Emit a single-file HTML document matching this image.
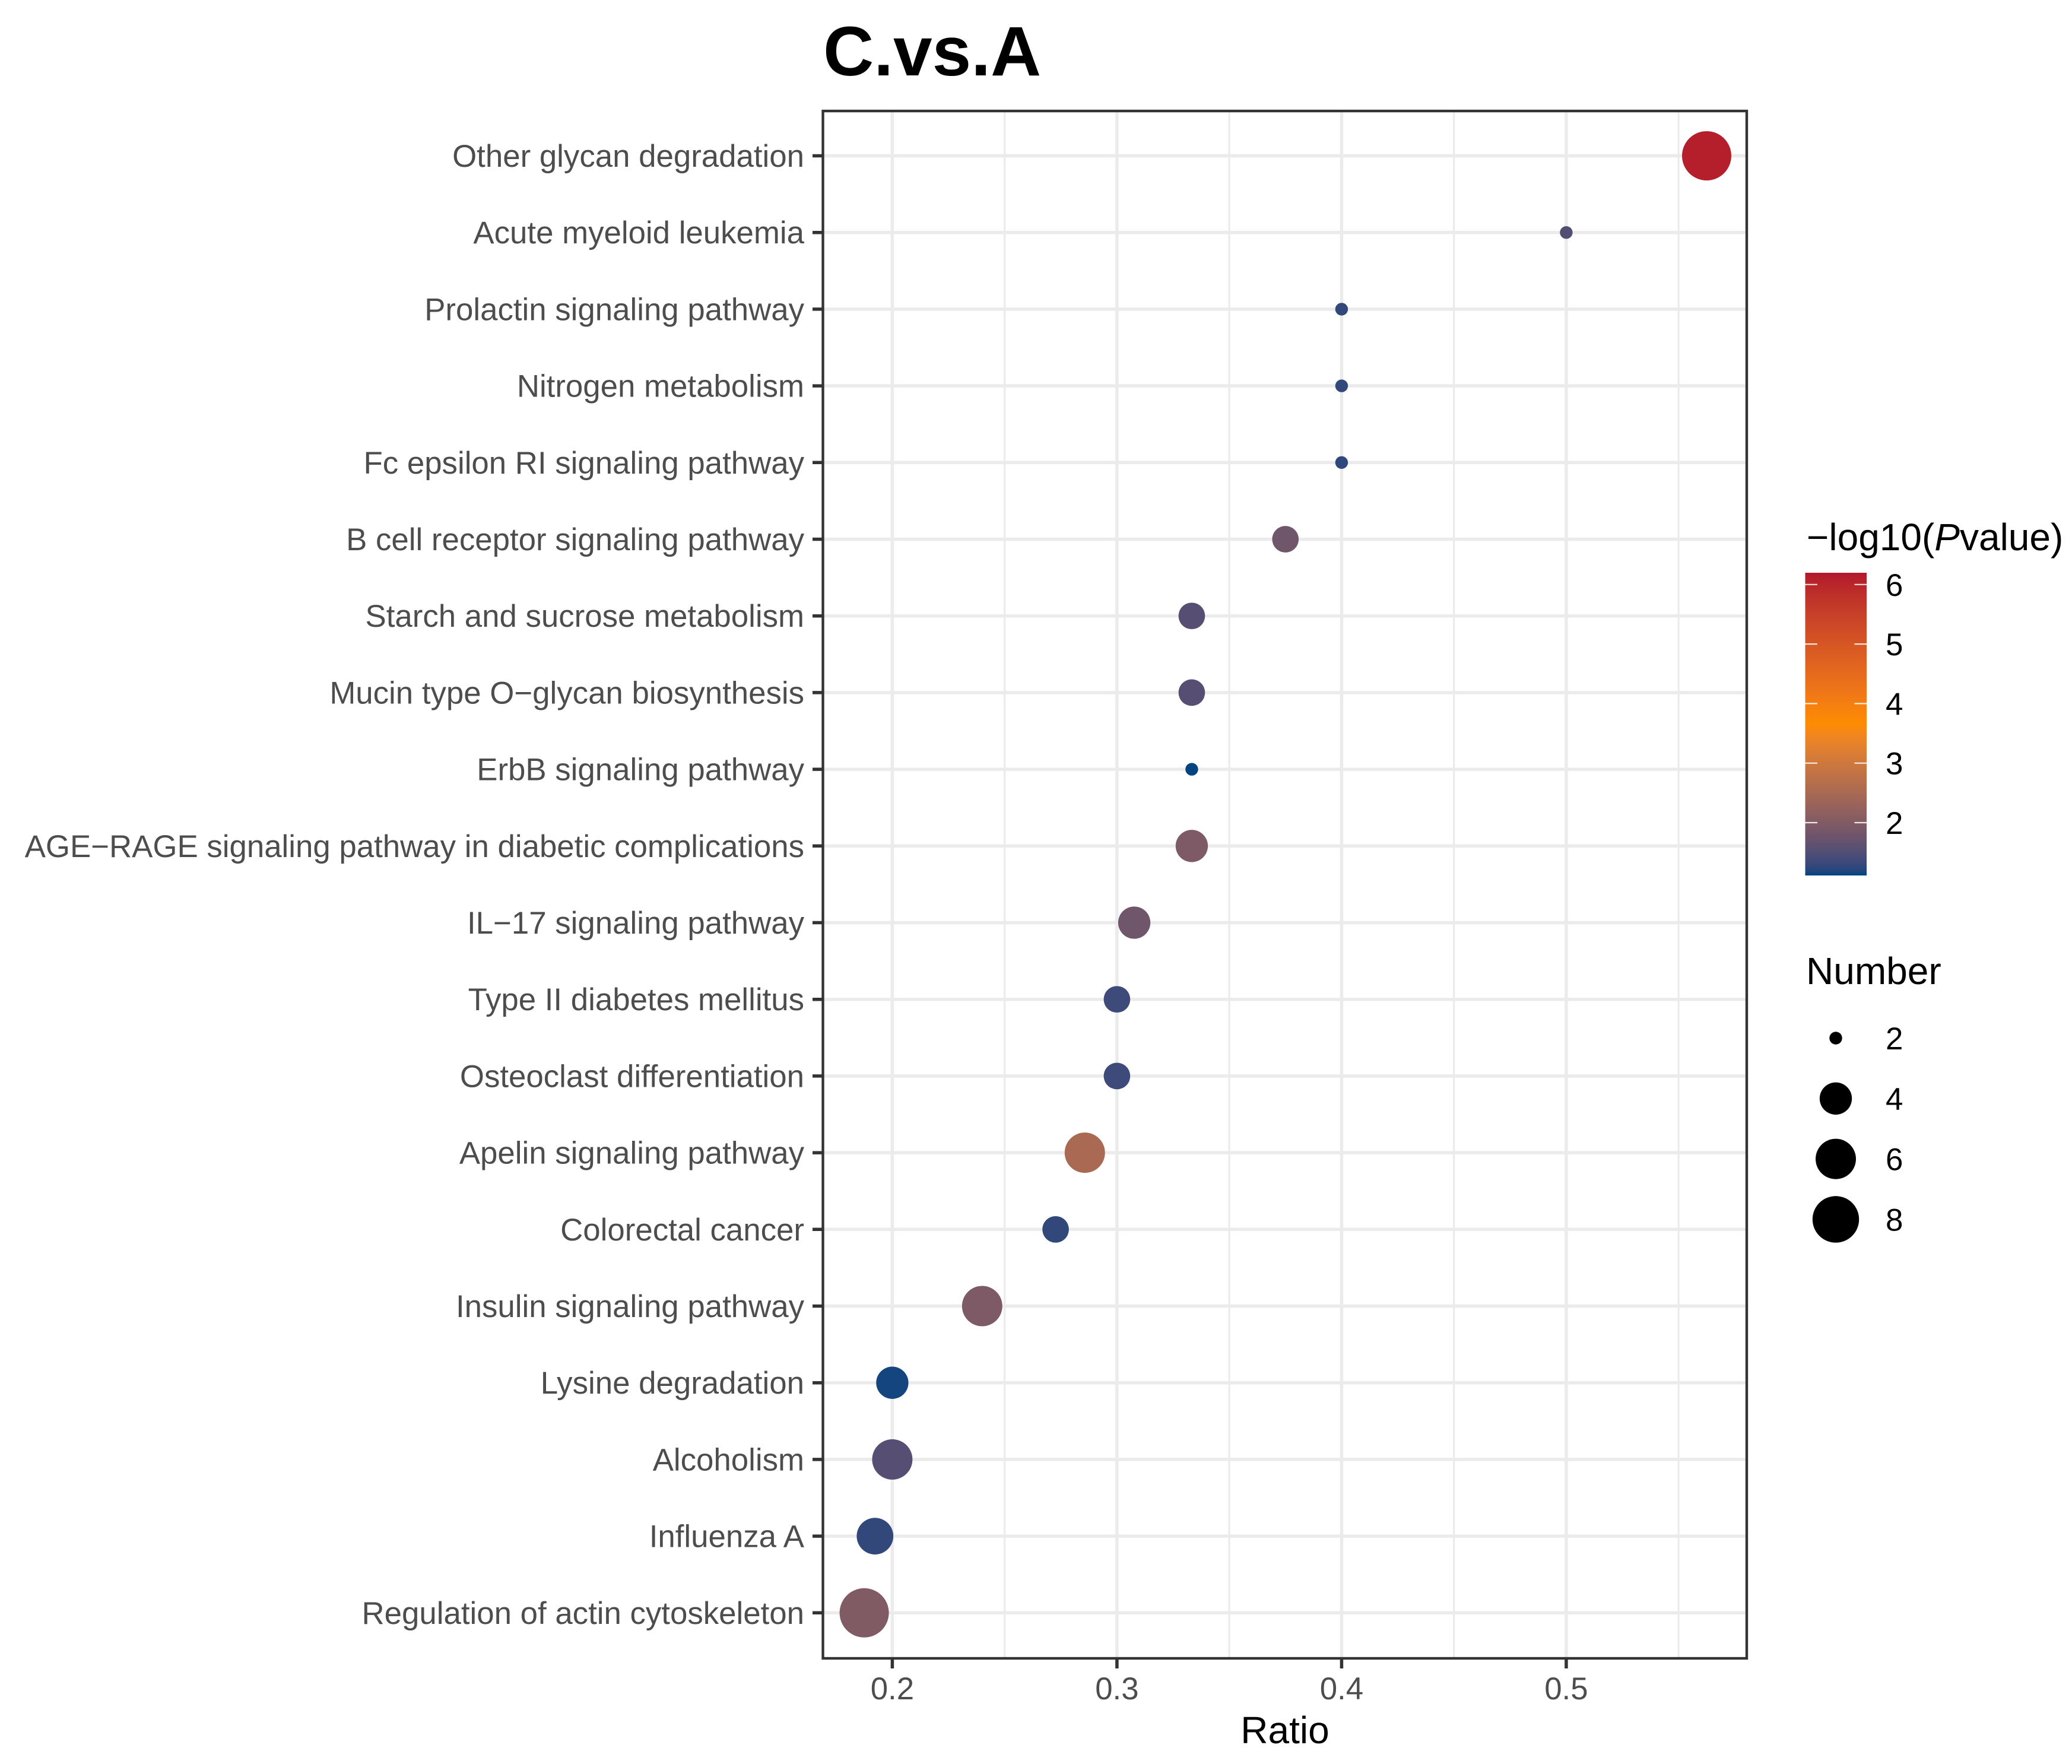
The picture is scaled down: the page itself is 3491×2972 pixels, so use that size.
<!DOCTYPE html>
<html lang="en">
<head>
<meta charset="utf-8">
<title>C.vs.A</title>
<style>
html,body{margin:0;padding:0;background:#fff;}
svg{display:block;}
text{font-family:"Liberation Sans",Arial,sans-serif;}
</style>
</head>
<body>
<svg id="chart" xmlns="http://www.w3.org/2000/svg" width="3491" height="2972" viewBox="0 0 3491 2972">
  <rect width="3491" height="2972" fill="#fff"/>
  <text x="1387" y="127" font-size="118" font-weight="700" fill="#000">C.vs.A</text>
  <g id="grid"></g>
  <g id="points"></g>
  <rect x="1386.5" y="187" width="1556.5" height="2607" fill="none" stroke="#333" stroke-width="4.4"/>
  <g id="axes"></g>
  <text x="2165" y="2937" font-size="64" text-anchor="middle" fill="#000">Ratio</text>
  <text x="3044" y="927" font-size="64" fill="#000">−log10(<tspan font-style="italic">P</tspan>value)</text>
  <defs><linearGradient id="cbar" x1="0" y1="1" x2="0" y2="0"></linearGradient></defs>
  <rect x="3041.5" y="965" width="103.5" height="510" fill="url(#cbar)"/>
  <g id="cbarTicks"></g>
  <text x="3043" y="1658" font-size="64" fill="#000">Number</text>
  <g id="sizeLegend"></g>
</svg>
<script>
// ---- data ----
const categories = [
  "Other glycan degradation","Acute myeloid leukemia","Prolactin signaling pathway",
  "Nitrogen metabolism","Fc epsilon RI signaling pathway","B cell receptor signaling pathway",
  "Starch and sucrose metabolism","Mucin type O−glycan biosynthesis","ErbB signaling pathway",
  "AGE−RAGE signaling pathway in diabetic complications","IL−17 signaling pathway",
  "Type II diabetes mellitus","Osteoclast differentiation","Apelin signaling pathway",
  "Colorectal cancer","Insulin signaling pathway","Lysine degradation","Alcoholism",
  "Influenza A","Regulation of actin cytoskeleton"
];
const ratios = [0.5625,0.5,0.4,0.4,0.4,0.375,0.3333,0.3333,0.3333,0.3333,0.3077,0.3,0.3,0.2857,0.2727,0.2400,0.2,0.2,0.1923,0.1875];
const numbers = [9,2,2,2,2,3,3,3,2,4,4,3,3,6,3,6,4,6,5,9];
const logPvalues = [6.1,1.5,1.27,1.27,1.25,1.8,1.55,1.55,1.11,1.95,1.8,1.35,1.35,2.5,1.27,1.95,1.15,1.55,1.27,2.0];
const xTicks = [0.2,0.3,0.4,0.5];
const xTickLabels = ["0.2","0.3","0.4","0.5"];
const xMinorTicks = [0.25,0.35,0.45,0.55];
const colorTicks = [6,5,4,3,2];
const sizeLegendValues = [2,4,6,8];
const colorDomain = [1.11,6.2];
const sizeDomain = [2,9];

// ---- scales ----
const SVGNS = "http://www.w3.org/2000/svg";
const panel = {left:1386.5,right:2943,top:187,bottom:2794};
const xScale = v => 1503.4 + (v - 0.2) * 3785;
const yScale = i => 262.5 + i * 129.2;
const rScale = n => 10.7 + Math.sqrt((n - sizeDomain[0]) / (sizeDomain[1] - sizeDomain[0])) * 30.8;
const cbarY = v => 1386 - (v - 2) * 100.3;

function hexLab(h){
  let c=[1,3,5].map(i=>parseInt(h.substr(i,2),16)/255).map(u=>u>0.04045?Math.pow((u+0.055)/1.055,2.4):u/12.92);
  let X=(0.4124*c[0]+0.3576*c[1]+0.1805*c[2])/0.95047,Y=0.2126*c[0]+0.7152*c[1]+0.0722*c[2],Z=(0.0193*c[0]+0.1192*c[1]+0.9505*c[2])/1.08883;
  let f=t=>t>0.008856?Math.cbrt(t):7.787*t+16/116;
  return [116*f(Y)-16,500*(f(X)-f(Y)),200*(f(Y)-f(Z))];
}
function labHex(L){
  let fy=(L[0]+16)/116,fx=L[1]/500+fy,fz=fy-L[2]/200;
  let g=t=>t*t*t>0.008856?t*t*t:(t-16/116)/7.787;
  let X=0.95047*g(fx),Y=g(fy),Z=1.08883*g(fz);
  let l=[3.2406*X-1.5372*Y-0.4986*Z,-0.9689*X+1.8758*Y+0.0415*Z,0.0557*X-0.2040*Y+1.0570*Z];
  return "#"+l.map(u=>{u=u>0.0031308?1.055*Math.pow(u,1/2.4)-0.055:12.92*u;u=Math.max(0,Math.min(1,u));return Math.round(u*255).toString(16).padStart(2,"0");}).join("");
}
const labLow=hexLab("#004480"),labMid=hexLab("#ff8c00"),labHigh=hexLab("#b2182b");
function colorScale(v){
  let t=(v-colorDomain[0])/(colorDomain[1]-colorDomain[0]);
  t=Math.max(0,Math.min(1,t));
  let a=t<0.5?labLow:labMid,b=t<0.5?labMid:labHigh,u=t<0.5?t*2:(t-0.5)*2;
  return labHex(a.map((x,i)=>x+(b[i]-x)*u));
}
function mk(tag,parent,attrs){
  const e=document.createElementNS(SVGNS,tag);
  for(const k in attrs)e.setAttribute(k,attrs[k]);
  parent.appendChild(e);
  return e;
}

// ---- grid ----
const grid=document.getElementById("grid");
xMinorTicks.forEach(v=>{
  const l=mk("line",grid,{x1:xScale(v),x2:xScale(v),y1:panel.top,y2:panel.bottom,stroke:"#ebebeb","stroke-width":3.2});
  
  
});
xTicks.forEach(v=>{
  const l=mk("line",grid,{x1:xScale(v),x2:xScale(v),y1:panel.top,y2:panel.bottom,stroke:"#ebebeb","stroke-width":5.5});
  
  
});
categories.forEach((c,i)=>{
  const l=mk("line",grid,{x1:panel.left,x2:panel.right,y1:yScale(i),y2:yScale(i),stroke:"#ebebeb","stroke-width":5.5});
  
  
});

// ---- points ----
const pts=document.getElementById("points");
categories.forEach((c,i)=>{
  const p=mk("circle",pts,{cx:xScale(ratios[i]),cy:yScale(i),r:rScale(numbers[i]),fill:colorScale(logPvalues[i])});
  
  
});

// ---- axes ----
const axes=document.getElementById("axes");
categories.forEach((c,i)=>{
  const t=mk("line",axes,{x1:1369,x2:panel.left,y1:yScale(i),y2:yScale(i),stroke:"#333","stroke-width":5.5});
  
  
  const lb=mk("text",axes,{x:1355,y:yScale(i)+18.5,"font-size":52.8,"text-anchor":"end",fill:"#4d4d4d"});
  
  
  lb.textContent=c;
});
xTicks.forEach((v,i)=>{
  const t=mk("line",axes,{x1:xScale(v),x2:xScale(v),y1:panel.bottom,y2:2811,stroke:"#333","stroke-width":5.5});
  
  
  const lb=mk("text",axes,{x:xScale(v),y:2863,"font-size":52.8,"text-anchor":"middle",fill:"#4d4d4d"});
  
  
  lb.textContent=xTickLabels[i];
});

// ---- colour legend ----
const grad=document.getElementById("cbar");
for(let s=0;s<=60;s++){
  const u=s/60;
  mk("stop",grad,{offset:u,"stop-color":colorScale(colorDomain[0]+u*(colorDomain[1]-colorDomain[0]))});
}
const ct=document.getElementById("cbarTicks");
colorTicks.forEach(v=>{
  const a=mk("line",ct,{x1:3041.5,x2:3062,y1:cbarY(v),y2:cbarY(v),stroke:"#fff","stroke-opacity":0.85,"stroke-width":2.2});
  
  
  const b=mk("line",ct,{x1:3124.5,x2:3145,y1:cbarY(v),y2:cbarY(v),stroke:"#fff","stroke-opacity":0.85,"stroke-width":2.2});
  
  
  const lb=mk("text",ct,{x:3177,y:cbarY(v)+19,"font-size":52.8,fill:"#000"});
  
  
  lb.textContent=String(v);
});

// ---- size legend ----
const sl=document.getElementById("sizeLegend");
sizeLegendValues.forEach((n,i)=>{
  const y=1749+i*101.8;
  const c=mk("circle",sl,{cx:3093,cy:y,r:rScale(n),fill:"#000"});
  
  
  const lb=mk("text",sl,{x:3177,y:y+19,"font-size":52.8,fill:"#000"});
  
  
  lb.textContent=String(n);
});
</script>
</body>
</html>
